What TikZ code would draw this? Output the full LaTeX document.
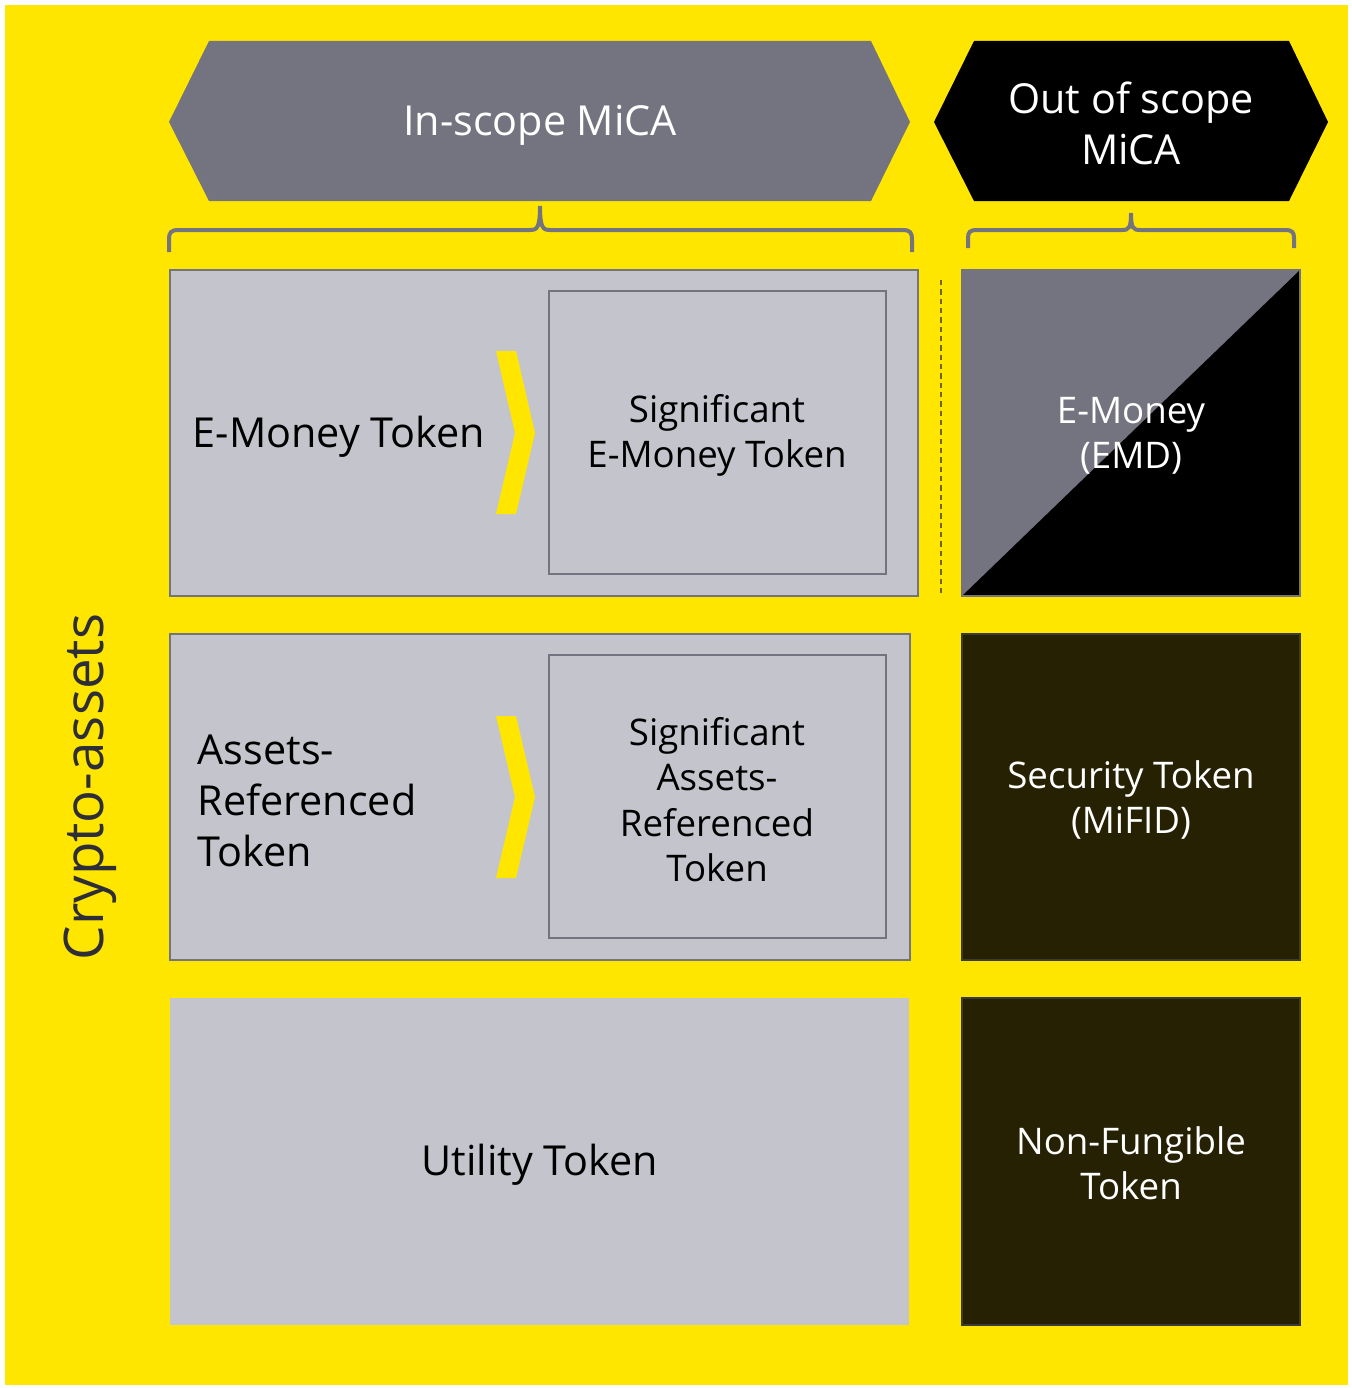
\documentclass[tikz,border=0pt]{standalone}
\usepackage{fontspec}
\setmainfont{Open Sans}
\definecolor{eyyellow}{HTML}{FFE600}
\definecolor{slate}{HTML}{747480}
\definecolor{lightslate}{HTML}{C4C4CD}
\definecolor{olivedark}{HTML}{262103}
\definecolor{darkedge}{HTML}{3A3A3A}
\definecolor{dashcol}{HTML}{6E6428}
\definecolor{labelgray}{HTML}{2E2E38}
\tikzset{
  panel/.style={fill=lightslate, draw=slate, line width=1.8pt},
  innerpanel/.style={draw=slate, line width=1.8pt},
  darkpanel/.style={fill=olivedark, draw=darkedge, line width=1.8pt},
  bracket/.style={draw=slate, line width=3pt},
  chevron/.style={fill=eyyellow},
  bigtext/.style={font=\fontsize{31}{38.3}\selectfont, yshift=-2.8pt},
  smalltext/.style={font=\fontsize{27.5}{33.8}\selectfont, yshift=-2pt},
}
\begin{document}
\begin{tikzpicture}[x=0.75pt,y=-0.75pt]
\useasboundingbox (0,0) rectangle (1352,1388);
\fill[white] (0,0) rectangle (1352,1388);
\fill[eyyellow] (5,5) rectangle (1348,1385);

% header hexagons
\fill[slate] (169,122) -- (209,41) -- (871,41) -- (910,122) -- (871,201) -- (209,201) -- cycle;
\fill[black] (934,122) -- (974,41) -- (1289,41) -- (1328,122) -- (1289,201) -- (974,201) -- cycle;
\node[bigtext, text=white] (inscope) at (540,122) {In-scope MiCA};
\node[bigtext, text=white, align=center, yshift=2pt] (outscope) at (1131,122) {Out of scope\\MiCA};

% brackets under the headers
\draw[bracket] (169,252) -- (169,240) .. controls (169,232) and (171,230) .. (179,230)
  -- (530,230) .. controls (537,230) and (540,228) .. (540,206)
  .. controls (540,228) and (543,230) .. (550,230)
  -- (902,230) .. controls (910,230) and (912,232) .. (912,240) -- (912,252);
\draw[bracket] (968,248) -- (968,238) .. controls (968,232) and (970,230) .. (977,230)
  -- (1122,230) .. controls (1129,230) and (1131,228) .. (1131,213)
  .. controls (1131,228) and (1133,230) .. (1140,230)
  -- (1285,230) .. controls (1292,230) and (1294,232) .. (1294,238) -- (1294,248);

% row 1: e-money tokens
\draw[panel] (170,270) rectangle (918,596);
\draw[innerpanel] (549,291) rectangle (886,574);
\fill[chevron] (496,351) -- (516,351) -- (535,433) -- (516,514) -- (496,514) -- (515,433) -- cycle;
\node[bigtext, anchor=west] (emt) at (188,433) {E-Money Token};
\node[smalltext, align=center] (semt) at (717,433) {Significant\\E-Money Token};

\draw[dashcol, line width=1.3pt, dash pattern=on 4pt off 3pt] (941,280) -- (941,595);

\fill[slate] (962,270) rectangle (1300,596);
\fill[black] (1300,270) -- (1300,596) -- (962,596) -- cycle;
\draw[slate, line width=1.8pt] (962,270) rectangle (1300,596);
\node[smalltext, text=white, align=center] (emd) at (1131,433) {E-Money\\(EMD)};

% row 2: asset-referenced tokens
\draw[panel] (170,634) rectangle (910,960);
\draw[innerpanel] (549,655) rectangle (886,938);
\fill[chevron] (496,716) -- (516,716) -- (535,797) -- (516,878) -- (496,878) -- (515,797) -- cycle;
\node[bigtext, anchor=west, align=left] (art) at (193,797) {Assets-\\Referenced\\Token};
\node[smalltext, align=center] (sart) at (717,797) {Significant\\Assets-\\Referenced\\Token};

\draw[darkpanel] (962,634) rectangle (1300,960);
\node[smalltext, text=white, align=center] (sec) at (1131,797) {Security Token\\(MiFID)};

% row 3: utility tokens and NFTs
\fill[lightslate] (170,998) rectangle (909,1325);
\node[bigtext] (util) at (540,1161) {Utility Token};

\draw[darkpanel] (962,998) rectangle (1300,1325);
\node[smalltext, text=white, align=center] (nft) at (1131,1161) {Non-Fungible\\Token};

% side label
\node[font=\fontsize{41}{47}\selectfont, text=labelgray, rotate=90] (crypto) at (90,787) {Crypto-assets};
\end{tikzpicture}
\end{document}
